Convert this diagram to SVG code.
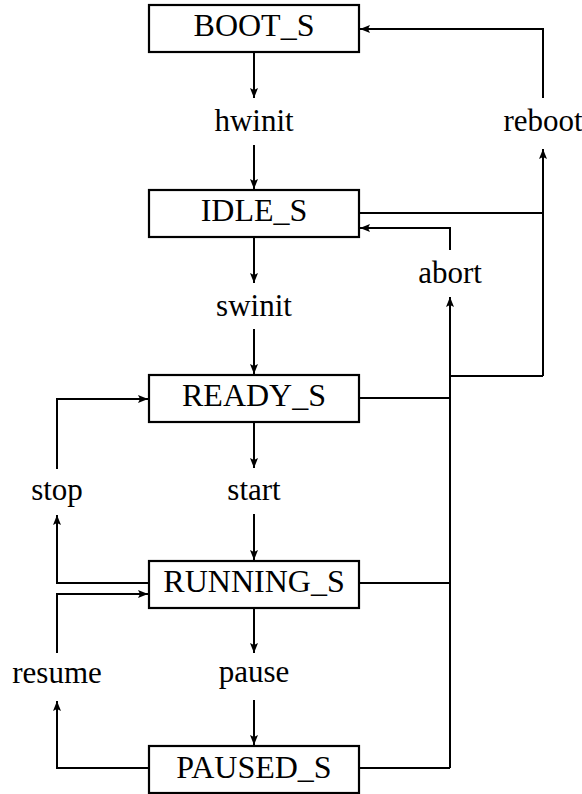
<svg xmlns="http://www.w3.org/2000/svg" width="582" height="794" viewBox="0 0 582 794">
<style>
.box{fill:#fff;stroke:#000;stroke-width:2.2}
.t{font-family:'Liberation Serif','Times New Roman',serif;font-size:31px;fill:#000;text-anchor:middle}
.b{font-size:32px}
.c{fill:none;stroke:#000;stroke-width:2}
</style>
<defs>
<marker id="ah" viewBox="0 0 10 8" refX="10" refY="4" markerWidth="10" markerHeight="8" markerUnits="userSpaceOnUse" orient="auto">
<path d="M0,0 L10,4 L0,8 L2,4 Z" fill="#000"/>
</marker>
</defs>
<rect width="582" height="794" fill="#fff"/>
<g id="connectors">
<path class="c" d="M254,52 V98" marker-end="url(#ah)"/>
<path class="c" d="M254,145 V189" marker-end="url(#ah)"/>
<path class="c" d="M254,237 V283" marker-end="url(#ah)"/>
<path class="c" d="M254,329 V374" marker-end="url(#ah)"/>
<path class="c" d="M254,422 V468" marker-end="url(#ah)"/>
<path class="c" d="M254,514 V560" marker-end="url(#ah)"/>
<path class="c" d="M254,608 V653" marker-end="url(#ah)"/>
<path class="c" d="M254,700 V745" marker-end="url(#ah)"/>
<path class="c" d="M149,583 H57 V515" marker-end="url(#ah)"/>
<path class="c" d="M57,469 V399 H148" marker-end="url(#ah)"/>
<path class="c" d="M149,768 H57 V701" marker-end="url(#ah)"/>
<path class="c" d="M57,653 V594 H148" marker-end="url(#ah)"/>
<path class="c" d="M543,98 V29 H360" marker-end="url(#ah)"/>
<path class="c" d="M543,376 V149" marker-end="url(#ah)"/>
<path class="c" d="M359,213 H543"/>
<path class="c" d="M450,250 V228 H360" marker-end="url(#ah)"/>
<path class="c" d="M450,768 V297" marker-end="url(#ah)"/>
<path class="c" d="M359,398 H450"/>
<path class="c" d="M359,583 H450"/>
<path class="c" d="M359,768 H450"/>
<path class="c" d="M450,376 H543"/>
</g>
<g id="boot_s"><rect class="box" x="149" y="5" width="210" height="47"/><text class="t b" x="254" y="36" font-family="Liberation Serif">BOOT_S</text></g>
<g id="idle_s"><rect class="box" x="149" y="190" width="210" height="47"/><text class="t b" x="254" y="221">IDLE_S</text></g>
<g id="ready_s"><rect class="box" x="149" y="375" width="210" height="47"/><text class="t b" x="254" y="406">READY_S</text></g>
<g id="running_s"><rect class="box" x="149" y="561" width="210" height="47"/><text class="t b" x="254" y="592">RUNNING_S</text></g>
<g id="paused_s"><rect class="box" x="149" y="746" width="210" height="47"/><text class="t b" x="254" y="778">PAUSED_S</text></g>
<g id="hwinit"><text class="t" x="254" y="131">hwinit</text></g>
<g id="swinit"><text class="t" x="254" y="316">swinit</text></g>
<g id="start"><text class="t" x="254" y="500">start</text></g>
<g id="pause"><text class="t" x="254" y="682">pause</text></g>
<g id="stop"><text class="t" x="57" y="500">stop</text></g>
<g id="resume"><text class="t" x="57" y="683">resume</text></g>
<g id="reboot"><text class="t" x="543" y="131">reboot</text></g>
<g id="abort"><text class="t" x="450" y="283">abort</text></g>
</svg>
